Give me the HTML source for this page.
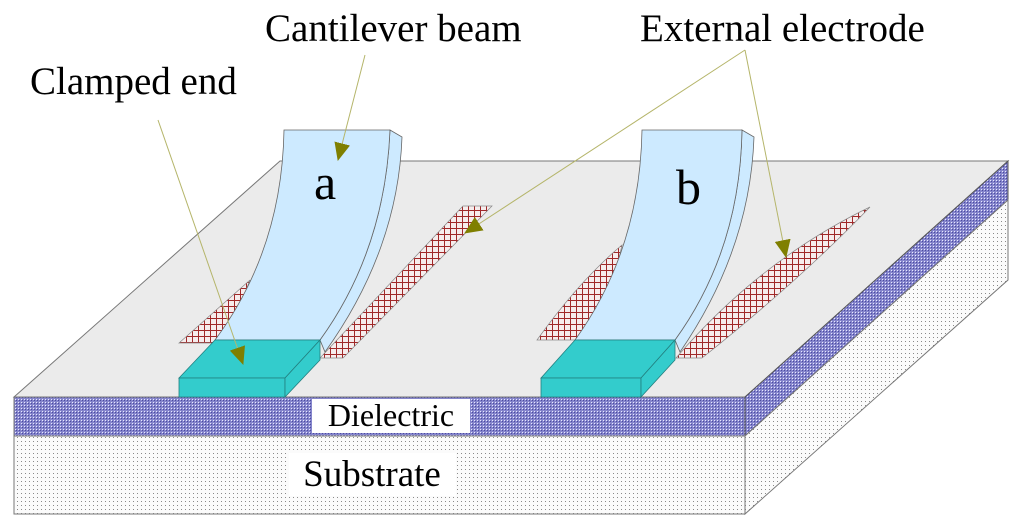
<!DOCTYPE html>
<html><head><meta charset="utf-8"><style>
html,body{margin:0;padding:0;background:#fff;width:1024px;height:528px;overflow:hidden}
svg{display:block}
text{font-family:"Liberation Serif",serif;fill:#000}
</style></head><body>
<svg width="1024" height="528" viewBox="0 0 1024 528" xmlns="http://www.w3.org/2000/svg">
<defs>
<pattern id="diel" width="3" height="3" patternUnits="userSpaceOnUse">
<rect width="3" height="3" fill="#8585cc"/><rect x="0" y="0" width="1" height="1" fill="#e8e8ff"/><rect x="1" y="1" width="1" height="1" fill="#4a4aa0"/>
</pattern>
<pattern id="sub" width="4" height="4" patternUnits="userSpaceOnUse">
<rect width="4" height="4" fill="#fbfbfb"/><rect x="1" y="1" width="1" height="1" fill="#8a8a8a"/>
</pattern>
<pattern id="grid" width="6" height="6" patternUnits="userSpaceOnUse">
<rect width="6" height="6" fill="#f6ecec"/><path d="M0 0.5H6M0.5 0V6" stroke="#a02828" stroke-width="1"/>
</pattern>
<marker id="ah" markerWidth="18" markerHeight="16" refX="17" refY="8" orient="auto" markerUnits="userSpaceOnUse" viewBox="0 0 18 16">
<path d="M0 0L18 8L0 16z" fill="#7f7f00"/>
</marker>
</defs>
<polygon points="14,397 280,161 1008,161 745,397" fill="#ebebeb" stroke="#777" stroke-width="1"/>
<polygon points="14,397 745,397 745,436 14,436" fill="url(#diel)" stroke="#777" stroke-width="1"/>
<polygon points="745,397 1008,161 1008,200 745,436" fill="url(#diel)" stroke="#555" stroke-width="1"/>
<polygon points="14,436 745,436 745,514 14,514" fill="url(#sub)" stroke="#777" stroke-width="1"/>
<polygon points="745,436 1008,200 1008,280 745,514" fill="url(#sub)" stroke="#777" stroke-width="1"/>
<polygon points="179,343 250,280 240,305 220,343" fill="url(#grid)" stroke="#888" stroke-width="0.7"/>
<polygon points="320,358 343,358 492,206 463,206" fill="url(#grid)" stroke="#888" stroke-width="0.7"/>
<path d="M537,340 Q580,280 622,245 L600,340 Z" fill="url(#grid)" stroke="#888" stroke-width="0.7"/>
<path d="M676,358 Q760,260 870,207 Q800,280 702,358 Z" fill="url(#grid)" stroke="#888" stroke-width="0.7"/>
<path d="M390,130 L402,137 Q398,250 325,352 L320,340 Q385,250 390,130 Z" fill="#cdeaff" stroke="#666" stroke-width="0.8"/>
<path d="M284,130 L390,130 Q385,250 320,340 L215,340 Q282,250 284,130 Z" fill="#cdeaff" stroke="#666" stroke-width="0.8"/>
<path d="M742,130 L754,137 Q750,250 680,352 L675,340 Q740,250 742,130 Z" fill="#cdeaff" stroke="#666" stroke-width="0.8"/>
<path d="M642,130 L742,130 Q740,250 675,340 L575,340 Q640,250 642,130 Z" fill="#cdeaff" stroke="#666" stroke-width="0.8"/>
<polygon points="179,378 215,340 320,340 285,378" fill="#33cccc" stroke="#227f7f" stroke-width="0.8"/>
<polygon points="179,378 285,378 285,397 179,397" fill="#33cccc" stroke="#227f7f" stroke-width="0.8"/>
<polygon points="285,378 320,340 320,360 285,397" fill="#33cccc" stroke="#227f7f" stroke-width="0.8"/>
<polygon points="541,378 575,340 675,340 641,378" fill="#33cccc" stroke="#227f7f" stroke-width="0.8"/>
<polygon points="541,378 641,378 641,397 541,397" fill="#33cccc" stroke="#227f7f" stroke-width="0.8"/>
<polygon points="641,378 675,340 675,360 641,397" fill="#33cccc" stroke="#227f7f" stroke-width="0.8"/>
<text x="314" y="199" font-size="50">a</text>
<text x="676" y="204" font-size="50">b</text>
<g stroke="#b5b56a" stroke-width="1" fill="none">
<line x1="365" y1="55" x2="338" y2="160" marker-end="url(#ah)"/>
<line x1="158" y1="120" x2="243" y2="364" marker-end="url(#ah)"/>
<line x1="745" y1="50" x2="465" y2="233" marker-end="url(#ah)"/>
<line x1="745" y1="50" x2="786" y2="257" marker-end="url(#ah)"/>
</g>
<text x="265" y="41" font-size="39">Cantilever beam</text>
<text x="640" y="41" font-size="39">External electrode</text>
<text x="30" y="94" font-size="39">Clamped end</text>
<rect x="312" y="399" width="158" height="34" fill="#fff"/>
<text x="391" y="426" font-size="32" text-anchor="middle">Dielectric</text>
<rect x="289" y="453" width="167" height="43" fill="#fff"/>
<text x="372" y="486" font-size="37" text-anchor="middle">Substrate</text>
</svg>
</body></html>
